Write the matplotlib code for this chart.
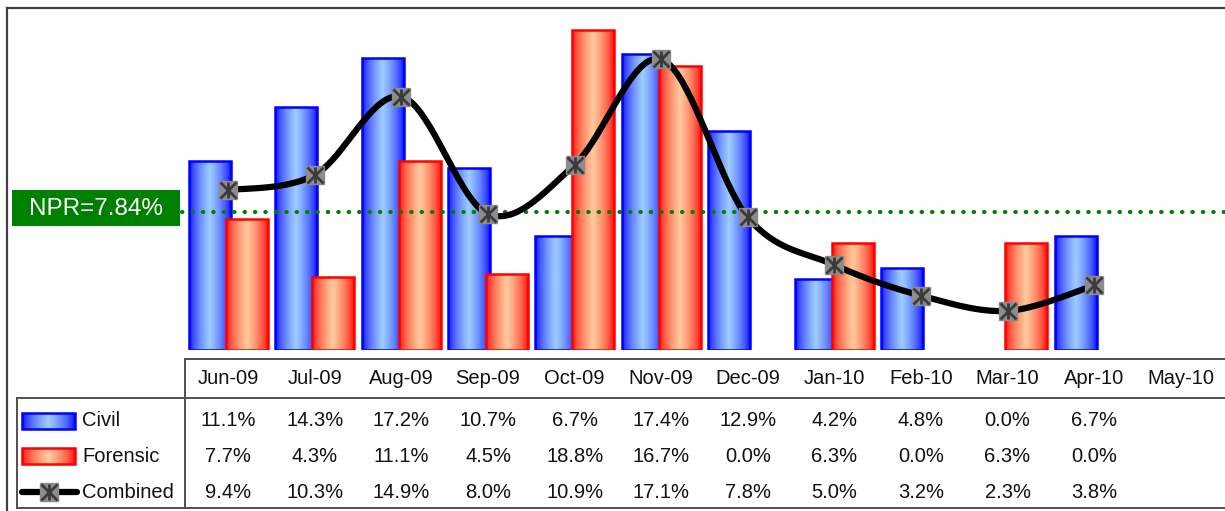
import numpy as np
import matplotlib
matplotlib.use("Agg")
import matplotlib.pyplot as plt
from matplotlib.colors import LinearSegmentedColormap
from matplotlib.patches import Rectangle
from matplotlib.transforms import blended_transform_factory

plt.rcParams['font.family'] = ['Liberation Sans', 'DejaVu Sans']

# data (percent)
months = ["Jun-09", "Jul-09", "Aug-09", "Sep-09", "Oct-09", "Nov-09",
          "Dec-09", "Jan-10", "Feb-10", "Mar-10", "Apr-10", "May-10"]
civil = [11.1, 14.3, 17.2, 10.7, 6.7, 17.4, 12.9, 4.2, 4.8, 0.0, 6.7, None]
forensic = [7.7, 4.3, 11.1, 4.5, 18.8, 16.7, 0.0, 6.3, 0.0, 6.3, 0.0, None]
combined = [9.4, 10.3, 14.9, 8.0, 10.9, 17.1, 7.8, 5.0, 3.2, 2.3, 3.8, None]
npr_text = "NPR=7.84%"
npr_level = 8.1

W, H = 1225, 511
fig = plt.figure(figsize=(W / 100, H / 100), dpi=100)

# pixel overlay for frame, table and label
ov = fig.add_axes([0, 0, 1, 1], zorder=0)
ov.set_xlim(0, W)
ov.set_ylim(H, 0)
ov.axis("off")

# plot area
x0, x1, ybase, ytop = 185, 1224, 350, 10
ax = fig.add_axes([x0 / W, (H - ybase) / H, (x1 - x0) / W, (ybase - ytop) / H], zorder=1)
ax.patch.set_alpha(0)
ax.axis("off")

t = np.linspace(-1, 1, 64)
grad = ((1 - np.abs(t)) ** 0.6).reshape(1, -1)
cm_blue = LinearSegmentedColormap.from_list("civ", ["#0000ff", "#9ccbff"])
cm_red = LinearSegmentedColormap.from_list("for", ["#ff0000", "#ffc99a"])

bw, off = 0.485, 0.215


def grad_bars(axis, xs, vals, cmap, edge, z):
    for x, v in zip(xs, vals):
        if v is None or v == 0:
            continue
        r = Rectangle((x - bw / 2, 0), bw, v, facecolor="none", edgecolor=edge,
                      linewidth=1.8, zorder=z + 0.05)
        axis.add_patch(r)
        im = axis.imshow(grad, cmap=cmap, aspect="auto", zorder=z,
                         extent=(x - bw / 2, x + bw / 2, 0, v), interpolation="bilinear")
        im.set_clip_path(r)


idx = np.arange(len(months))
grad_bars(ax, idx - off, civil, cm_blue, "#0000ff", 2.0)
grad_bars(ax, idx + off, forensic, cm_red, "#ff0000", 2.2)

# smoothed combined line (Catmull-Rom style, like Excel smoothing)
cy = np.array([v for v in combined if v is not None])
cx = np.arange(len(cy), dtype=float)
px, py = [], []
for i in range(len(cy) - 1):
    p0 = (cx[max(i - 1, 0)], cy[max(i - 1, 0)])
    p1 = (cx[i], cy[i])
    p2 = (cx[i + 1], cy[i + 1])
    p3 = (cx[min(i + 2, len(cy) - 1)], cy[min(i + 2, len(cy) - 1)])
    b1 = (p1[0] + (p2[0] - p0[0]) / 6, p1[1] + (p2[1] - p0[1]) / 6)
    b2 = (p2[0] - (p3[0] - p1[0]) / 6, p2[1] - (p3[1] - p1[1]) / 6)
    s = np.linspace(0, 1, 40)
    for k in range(2):
        P = [p1[k], b1[k], b2[k], p2[k]]
        c = ((1 - s) ** 3) * P[0] + 3 * ((1 - s) ** 2) * s * P[1] + 3 * (1 - s) * s ** 2 * P[2] + s ** 3 * P[3]
        (px if k == 0 else py).extend(c)
ax.plot(px, py, color="black", linewidth=4.5, zorder=4, solid_capstyle="round")
ax.plot(cx, cy, linestyle="none", marker="s", markersize=13, markerfacecolor="#8c8c8c",
        markeredgecolor="#8c8c8c", zorder=5)
ax.plot(cx, cy, linestyle="none", marker="x", markersize=11, markeredgecolor="#3a3a3a",
        markeredgewidth=2, zorder=6)
ax.plot(cx, cy, linestyle="none", marker="|", markersize=12, markeredgecolor="#3a3a3a",
        markeredgewidth=2, zorder=6)

# NPR reference line
ax.axhline(npr_level, xmin=-0.003, xmax=1, color="#008000", linewidth=3,
           linestyle=(0, (0.1, 2.4)), dash_capstyle="round", zorder=3, clip_on=False)

ax.set_xlim(-0.5, len(months) - 0.5)
ax.set_ylim(0, 20)

# NPR label box
ypix = ybase - (ybase - ytop) * npr_level / 20
ov.add_patch(Rectangle((12, ypix - 22), 168, 36, facecolor="#008000", edgecolor="none"))
ov.text(96, ypix - 3.5, npr_text, color="white", fontsize=17.5, ha="center", va="center")

# chart frame
fc = "#404040"
ov.plot([7, 7], [8, H], color=fc, linewidth=1.6)
ov.plot([7, W], [8, 8], color=fc, linewidth=1.6)

# data table
tc = "#505050"
ov.plot([185, W], [359, 359], color=tc, linewidth=1.4)
ov.plot([17, W], [398, 398], color=tc, linewidth=1.4)
ov.plot([17, W], [508, 508], color=tc, linewidth=1.4)
ov.plot([185, 185], [359, 508], color=tc, linewidth=1.4)
ov.plot([17, 17], [398, 508], color=tc, linewidth=1.4)

tr = blended_transform_factory(ax.transData, ov.transData)
row_y = [421, 456, 492]
for i, m in enumerate(months):
    ax.text(i, 378, m, transform=tr, ha="center", va="center", fontsize=14.5, color="#111111")
    for vals, ry in zip([civil, forensic, combined], row_y):
        if vals[i] is not None:
            ax.text(i, ry, f"{vals[i]:.1f}%", transform=tr, ha="center", va="center",
                    fontsize=14.5, color="#111111")

# legend keys inside table
for ry, cmap, edge in [(421, cm_blue, "#0000ff"), (456, cm_red, "#ff0000")]:
    k = Rectangle((22, ry - 8), 53, 16, facecolor="none", edgecolor=edge, linewidth=1.8, zorder=3)
    ov.add_patch(k)
    ov.imshow(grad, cmap=cmap, aspect="auto", extent=(22, 75, ry + 8, ry - 8), zorder=2)
ov.plot([22, 77], [492, 492], color="black", linewidth=4.5, solid_capstyle="round")
ov.plot([49], [492], marker="s", markersize=13, color="#8c8c8c")
ov.plot([49], [492], marker="x", markersize=11, markeredgecolor="#3a3a3a", markeredgewidth=2)
ov.plot([49], [492], marker="|", markersize=12, markeredgecolor="#3a3a3a", markeredgewidth=2)
for lab, ry in zip(["Civil", "Forensic", "Combined"], row_y):
    ov.text(82, ry, lab, ha="left", va="center", fontsize=14.5, color="#111111")
ov.set_xlim(0, W)
ov.set_ylim(H, 0)

fig.savefig("out.png", dpi=100)
